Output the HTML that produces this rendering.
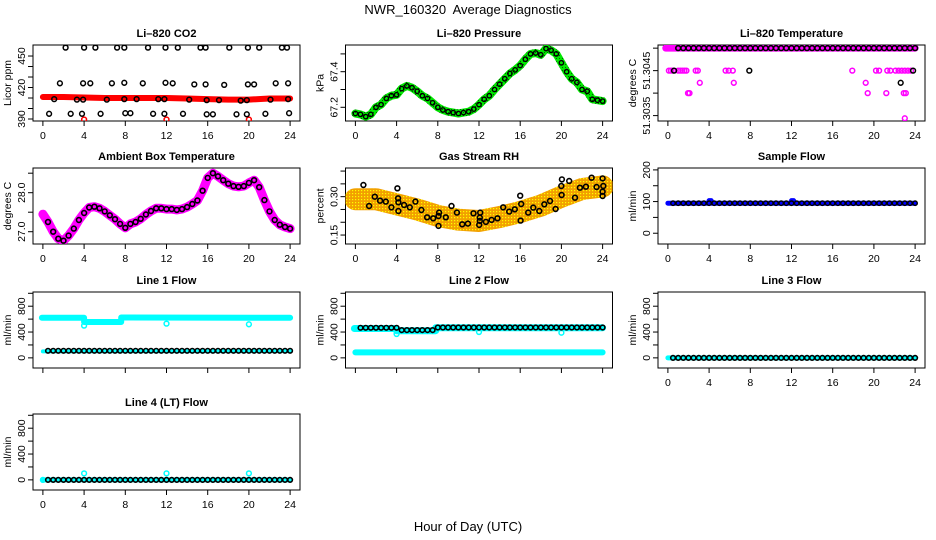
<!DOCTYPE html>
<html><head><meta charset="utf-8"><title>NWR_160320 Average Diagnostics</title>
<style>
html,body{margin:0;padding:0;background:#fff;}
svg{display:block;font-family:"Liberation Sans",Arial,sans-serif;}
</style></head>
<body>
<svg id="fig" width="936" height="540" viewBox="0 0 936 540" xmlns="http://www.w3.org/2000/svg">
<defs>
<pattern id="rhPat" width="3" height="3" patternUnits="userSpaceOnUse">
<rect width="3" height="3" fill="#f2a000"/><rect x="1" y="1" width="1.2" height="1.2" fill="#ffff00"/>
</pattern>
<pattern id="grPat" width="3" height="3" patternUnits="userSpaceOnUse">
<rect width="3" height="3" fill="#00e800"/><rect x="1" y="1" width="1" height="1" fill="#006000"/>
</pattern>
</defs>
<text x="468" y="14" text-anchor="middle" font-size="13">NWR_160320&#160; Average Diagnostics</text>
<text x="468" y="531" text-anchor="middle" font-size="13">Hour of Day (UTC)</text>
</svg>
<script>
// ---------- data ----------
const H = [0,0.5,1,1.5,2,2.5,3,3.5,4,4.5,5,5.5,6,6.5,7,7.5,8,8.5,9,9.5,10,10.5,11,11.5,12,12.5,13,13.5,14,14.5,15,15.5,16,16.5,17,17.5,18,18.5,19,19.5,20,20.5,21,21.5,22,22.5,23,23.5,24];
const xTicks = [0,4,8,12,16,20,24];

// CO2
const co2RedX = [0,2,4,6,8,10,12,14,16,18,20,22,24];
const co2RedY = [411,411,410.5,410,410,410,410,409.5,409,408.5,408.5,409.5,409.5];
const co2OutX = [4,12,20];
const co2OutY = [389.5,389.5,389.5];
const co2HiX = [2.2,4.0,5.1,7.2,7.9,10.2,11.9,13.1,15.3,15.8,18.1,19.9,21.0,23.2,23.7];
const co2HiY = [458,458,458,458,458,458,458,458,458,458,458,458,458,458,458];
const co2MidX = [1.65,3.9,4.6,6.7,7.9,9.7,11.9,12.6,14.7,15.8,17.6,19.9,20.5,22.6,23.8];
const co2MidY = [424,424,424,424,424.5,424,424.5,424,423,423,422.5,423,423,424,424];
const co2LoX = [1.1,3.3,3.9,6.2,7.9,9.1,11.2,11.8,14.2,15.9,17.1,19.2,19.8,22.1,23.8];
const co2LoY = [409,408.5,408.5,408.5,409,409,409,409,408.5,408,408,407.5,408,408.5,409];
const co2BotX = [0.6,2.7,3.8,5.6,8.0,8.5,10.7,11.8,13.6,15.9,16.5,18.8,19.8,21.6,23.9];
const co2BotY = [395,395,395,395,395.5,395.5,395,395,395,394.5,394.5,394.5,394.5,395,395.5];
const co2Ticks = [390,400,410,420,430,440,450];
const co2Labels = [390,420,450];

// Pressure
const presY = [67.165,67.16,67.148,67.16,67.2,67.215,67.25,67.265,67.27,67.305,67.32,67.31,67.29,67.265,67.25,67.225,67.2,67.185,67.175,67.17,67.165,67.17,67.175,67.19,67.215,67.245,67.265,67.3,67.33,67.36,67.39,67.41,67.435,67.47,67.5,67.505,67.495,67.53,67.52,67.5,67.45,67.4,67.36,67.34,67.3,67.29,67.245,67.24,67.235];
const presTicks = [67.2,67.3,67.4,67.5];
const presLabels = [67.2,67.4];

// Li-820 temperature
const tempLineX = [-0.2,24];
const tempLineY = [51.3050,51.3050];
const tempMagX = [0.1,0.3,0.5,1.0,1.2,1.4,1.6,1.8,2.7,2.9,5.6,5.9,6.3,17.9,20.2,20.5,21.3,21.6,22.1,22.4,22.7,23.0,23.3,23.6, 3.1,6.4,19.2, 1.95,2.1,19.4,21.2,22.9,23.1, 23.0];
const tempMagY = [51.3045,51.3045,51.3045,51.3045,51.3045,51.3045,51.3045,51.3045,51.3045,51.3045,51.3045,51.3045,51.3045,51.3045,51.3045,51.3045,51.3045,51.3045,51.3045,51.3045,51.3045,51.3045,51.3045,51.3045, 51.30423,51.30423,51.30423, 51.3040,51.3040,51.3040,51.3040,51.3040,51.3040, 51.30344];
const tempBlkX = [0.6,7.9,23.8,22.6];
const tempBlkY = [51.3045,51.3045,51.3045,51.30423];
const tempMainY = [51.3050,51.3050,51.3050,51.3050,51.3050,51.3050,51.3050,51.3050,51.3050,51.3050,51.3050,51.3050,51.3050,51.3050,51.3050,51.3050,51.3050,51.3050,51.3050,51.3050,51.3050,51.3050,51.3050,51.3050,51.3050,51.3050,51.3050,51.3050,51.3050,51.3050,51.3050,51.3050,51.3050,51.3050,51.3050,51.3050,51.3050,51.3050,51.3050,51.3050,51.3050,51.3050,51.3050,51.3050,51.3050,51.3050,51.3050];
const tempTicks = [51.3035,51.3040,51.3045,51.3050];
const tempLabels = [51.3035,51.3045];

// Ambient box temperature
const ambY = [27.45,27.25,27.0,26.82,26.77,26.9,27.08,27.3,27.48,27.62,27.64,27.6,27.52,27.42,27.32,27.2,27.1,27.2,27.25,27.33,27.44,27.53,27.6,27.6,27.58,27.58,27.56,27.58,27.63,27.71,27.8,28.05,28.38,28.5,28.42,28.32,28.23,28.17,28.15,28.17,28.25,28.32,28.14,27.81,27.52,27.3,27.18,27.12,27.08];
const ambTicks = [27.0,27.5,28.0,28.5];
const ambLabels = [27.0,28.0];

// Gas stream RH
const rhTrendX = [0,2,4,6,8,10,12,14,16,18,20,22,24];
const rhTrendY = [0.29,0.29,0.27,0.25,0.225,0.21,0.205,0.22,0.24,0.265,0.30,0.33,0.34];
const rhPtX = [0.78,1.33,1.88,2.40,2.95,3.50,4.08,4.15,4.18,4.18,4.73,5.28,5.83,6.41,6.96,7.55,8.07,8.13,8.07,8.78,9.33,9.85,10.37,10.92,11.47,12.02,12.08,12.12,12.08,12.67,13.22,13.80,14.35,14.93,15.48,16.00,16.10,16.04,16.78,17.27,17.85,18.34,18.89,19.44,19.99,20.02,20.05,20.76,21.32,21.80,22.38,22.93,23.42,24.0,24.07,24.0,24.0];
const rhPtY = [0.3455,0.2636,0.30,0.2844,0.2805,0.2584,0.3325,0.2935,0.2779,0.2441,0.2675,0.2584,0.2805,0.248,0.2194,0.2155,0.2246,0.2376,0.1856,0.2194,0.2636,0.2376,0.1921,0.1947,0.235,0.1895,0.2051,0.2376,0.2181,0.2012,0.209,0.2155,0.2584,0.2415,0.2506,0.3039,0.2714,0.2064,0.2376,0.2571,0.2441,0.2701,0.2831,0.2519,0.3416,0.3065,0.3676,0.3611,0.2961,0.3351,0.339,0.3741,0.3377,0.3715,0.3416,0.3026,0.3195];
const rhTicks = [0.15,0.20,0.25,0.30,0.35,0.40];
const rhLabels = [0.15,0.30];

// Sample flow
const sampLineX = [0,4,4,4.2,4.2,12,12,12.2,12.2,24];
const sampLineY = [95,95,103,103,95,95,103,103,95,95];
const sampBlkY = [95,95,95,95,95,95,95,95,95,95,95,95,95,95,95,95,95,95,95,95,95,95,95,95,95,95,95,95,95,95,95,95,95,95,95,95,95,95,95,95,95,95,95,95,95,95,95,95];
const sampTicks = [0,50,100,150,200];
const sampLabels = [0,100,200];

// Flow panels
const flowTicks = [0,200,400,600,800,1000];
const flowLabels = [0,400,800];
const l1UpX = [-0.1,4,4,7.6,7.6,24];
const l1UpY = [620,620,555,555,625,620];
const l1LowX = [0,24];
const l1LowY = [100,105];
const l1OutX = [4,12,20];
const l1OutY = [500,530,520];
const l1BlkY = [110,110,110,110,110,110,110,110,110,110,110,110,110,110,110,110,110,110,110,110,110,110,110,110,110,110,110,110,110,110,110,110,110,110,110,110,110,110,110,110,110,110,110,110,110,110,110,110];

const l2UpX = [-0.1,4,4,7.8,7.8,24];
const l2UpY = [455,455,420,420,465,465];
const l2LowX = [0,24];
const l2LowY = [85,85];
const l2OutX = [4,12,20];
const l2OutY = [370,400,390];
const l2BlkY = [465,465,465,465,465,465,465,465,430,430,430,430,430,430,430,470,470,470,470,470,470,470,470,470,470,470,470,470,470,470,470,470,470,470,470,470,470,470,470,470,470,470,470,470,470,470,470,470];

const l3LineX = [0,24];
const l3LineY = [0,0];
const l3BlkY = [0,0,0,0,0,0,0,0,0,0,0,0,0,0,0,0,0,0,0,0,0,0,0,0,0,0,0,0,0,0,0,0,0,0,0,0,0,0,0,0,0,0,0,0,0,0,0,0];
const l4OutX = [0,4,12,20];
const l4OutY = [0,100,100,100];

// ---------- drawing ----------
const SVGNS = 'http://www.w3.org/2000/svg';
const fig = document.getElementById('fig');
const COLS = [33, 345.5, 658];
const ROWS = [45, 168, 292, 414];
const PW = 267, PH = 76;

function mk(tag, parent){ const e = document.createElementNS(SVGNS, tag); parent.appendChild(e); return e; }

function fmt(v){ return String(v); }

function makePanel(col,row,title,ylab,ylim,ticks,labels,fixed,showX){
  const L = COLS[col], T = ROWS[row];
  const g = mk('g', fig);
  
  
  const sx = h => L + (h + 0.96) / 25.92 * PW;
  const sy = v => T + PH - (v - ylim[0]) / (ylim[1] - ylim[0]) * PH;
  const box = mk('rect', g);
  
  
  box.setAttribute('x', L); box.setAttribute('y', T); box.setAttribute('width', PW); box.setAttribute('height', PH);
  box.setAttribute('fill', 'none'); box.setAttribute('stroke', '#000'); box.setAttribute('stroke-width', '1');
  const t = mk('text', g);
  
  
  t.setAttribute('x', L + PW/2); t.setAttribute('y', T - 8); t.setAttribute('text-anchor', 'middle');
  t.setAttribute('font-size', '11'); t.setAttribute('font-weight', 'bold');
  t.textContent = title;
  const xa = mk('g', g);
  
  
  const xl = mk('line', xa);
  xl.setAttribute('x1', sx(xTicks[0])); xl.setAttribute('x2', sx(xTicks[xTicks.length-1]));
  xl.setAttribute('y1', T+PH); xl.setAttribute('y2', T+PH); xl.setAttribute('stroke', '#000');
  xTicks.forEach(h => {
    const tk = mk('line', xa);
    
    
    tk.setAttribute('x1', sx(h)); tk.setAttribute('x2', sx(h)); tk.setAttribute('y1', T+PH); tk.setAttribute('y2', T+PH+5); tk.setAttribute('stroke', '#000');
    if (showX) {
      const tl = mk('text', xa);
      
      
      tl.setAttribute('x', sx(h)); tl.setAttribute('y', T+PH+18); tl.setAttribute('text-anchor', 'middle'); tl.setAttribute('font-size', '10.5');
      tl.textContent = fmt(h);
    }
  });
  const ya = mk('g', g);
  
  
  const yl = mk('line', ya);
  yl.setAttribute('x1', L); yl.setAttribute('x2', L);
  yl.setAttribute('y1', sy(ticks[0])); yl.setAttribute('y2', sy(ticks[ticks.length-1])); yl.setAttribute('stroke', '#000');
  ticks.forEach(v => {
    const tk = mk('line', ya);
    
    
    tk.setAttribute('x1', L-5); tk.setAttribute('x2', L); tk.setAttribute('y1', sy(v)); tk.setAttribute('y2', sy(v)); tk.setAttribute('stroke', '#000');
  });
  labels.forEach(v => {
    const tl = mk('text', ya);
    
    
    const x = L - 8, y = sy(v);
    tl.setAttribute('x', x); tl.setAttribute('y', y); tl.setAttribute('text-anchor', 'middle'); tl.setAttribute('font-size', '10.5');
    tl.setAttribute('transform', 'rotate(-90 ' + x + ' ' + y + ')');
    tl.textContent = v.toFixed(fixed);
  });
  const yt = mk('text', ya);
  
  
  const yx = L - 22, yy = T + PH/2;
  yt.setAttribute('x', yx); yt.setAttribute('y', yy); yt.setAttribute('text-anchor', 'middle'); yt.setAttribute('font-size', '10.5');
  yt.setAttribute('transform', 'rotate(-90 ' + yx + ' ' + yy + ')');
  yt.textContent = ylab;
  const clipId = 'clip' + col + row;
  const cp = mk('clipPath', g); cp.setAttribute('id', clipId);
  const cr = mk('rect', cp); cr.setAttribute('x', L); cr.setAttribute('y', T); cr.setAttribute('width', PW); cr.setAttribute('height', PH);
  const dg = mk('g', g);
  
  
  dg.setAttribute('clip-path', 'url(#' + clipId + ')');
  return {g: dg, sx, sy};
}

function line(p, xs, ys, stroke, width, name){
  const pl = mk('polyline', p.g);
  
  
  pl.setAttribute('points', xs.map((x,i) => p.sx(x).toFixed(1) + ',' + p.sy(ys[i]).toFixed(1)).join(' '));
  pl.setAttribute('fill', 'none'); pl.setAttribute('stroke', stroke); pl.setAttribute('stroke-width', width);
  pl.setAttribute('stroke-linejoin', 'round'); pl.setAttribute('stroke-linecap', 'round');
}

function pts(p, xs, ys, color, name, r, sw){
  const gg = mk('g', p.g);
  
  
  xs.forEach((x,i) => {
    const c = mk('circle', gg);
    
    
    c.setAttribute('cx', p.sx(x).toFixed(1)); c.setAttribute('cy', p.sy(ys[i]).toFixed(1));
    c.setAttribute('r', r || 2.4); c.setAttribute('fill', 'none'); c.setAttribute('stroke', color); c.setAttribute('stroke-width', sw || 1.5);
  });
}

const HC = H.slice(1);
const HT = H.slice(2);

let p = makePanel(0,0,'Li\u2013820 CO2','Licor ppm',[388.1,460.5],co2Ticks,co2Labels,0,true);
line(p, co2RedX, co2RedY, '#ff0000', 6, 'co2-red-band');
pts(p, co2OutX, co2OutY, '#ff0000', 'co2-red-point');
pts(p, co2HiX, co2HiY, '#000', 'co2-point-high');
pts(p, co2MidX, co2MidY, '#000', 'co2-point-mid');
pts(p, co2LoX, co2LoY, '#000', 'co2-point-low');
pts(p, co2BotX, co2BotY, '#000', 'co2-point-bottom');

p = makePanel(1,0,'Li\u2013820 Pressure','kPa',[67.123,67.55],presTicks,presLabels,1,true);
line(p, H, presY, 'url(#grPat)', 8, 'pressure-green-band');
pts(p, H, presY, '#000', 'pressure-point', 2.2, 1.4);

p = makePanel(2,0,'Li\u2013820 Temperature','degrees C',[51.30338,51.30507],tempTicks,tempLabels,4,true);
line(p, tempLineX, tempLineY, '#ff00ff', 7, 'temperature-magenta-band');
pts(p, tempMagX, tempMagY, '#ff00ff', 'temperature-magenta-point');
pts(p, HT, tempMainY, '#000', 'temperature-point', 2.4, 1.6);
pts(p, tempBlkX, tempBlkY, '#000', 'temperature-black-point');

p = makePanel(0,1,'Ambient Box Temperature','degrees C',[26.685,28.633],ambTicks,ambLabels,1,true);
line(p, H, ambY, '#ff00ff', 9, 'ambient-magenta-band');
pts(p, HC, ambY.slice(1), '#000', 'ambient-point', 2.4, 1.6);

p = makePanel(1,1,'Gas Stream RH','percent',[0.115,0.412],rhTicks,rhLabels,2,true);
line(p, rhTrendX, rhTrendY, 'url(#rhPat)', 22, 'rh-orange-cloud');
pts(p, rhPtX, rhPtY, '#000', 'rh-point', 2.4, 1.6);

p = makePanel(2,1,'Sample Flow','ml/min',[-34,206],sampTicks,sampLabels,0,true);
line(p, sampLineX, sampLineY, '#0000ff', 5, 'sample-flow-blue-band');
pts(p, HC, sampBlkY, '#000', 'sample-flow-point', 2.2, 1.4);

p = makePanel(0,2,'Line 1 Flow','ml/min',[-157,1020],flowTicks,flowLabels,0,false);
line(p, l1UpX, l1UpY, '#00ffff', 6, 'line1-cyan-upper');
line(p, l1LowX, l1LowY, '#00ffff', 4, 'line1-cyan-lower');
pts(p, l1OutX, l1OutY, '#00ffff', 'line1-cyan-outlier');
pts(p, HC, l1BlkY, '#000', 'line1-point', 2.3, 1.6);

p = makePanel(1,2,'Line 2 Flow','ml/min',[-157,1020],flowTicks,flowLabels,0,false);
line(p, l2UpX, l2UpY, '#00ffff', 7, 'line2-cyan-upper');
line(p, l2LowX, l2LowY, '#00ffff', 6, 'line2-cyan-lower');
pts(p, l2OutX, l2OutY, '#00ffff', 'line2-cyan-outlier');
pts(p, HC, l2BlkY, '#000', 'line2-point', 2.3, 1.6);

p = makePanel(2,2,'Line 3 Flow','ml/min',[-157,1020],flowTicks,flowLabels,0,true);
line(p, l3LineX, l3LineY, '#00ffff', 5, 'line3-cyan-band');
pts(p, HC, l3BlkY, '#000', 'line3-point', 2.3, 1.6);

p = makePanel(0,3,'Line 4 (LT) Flow','ml/min',[-157,1020],flowTicks,flowLabels,0,true);
line(p, l3LineX, l3LineY, '#00ffff', 5, 'line4-cyan-band');
pts(p, l4OutX, l4OutY, '#00ffff', 'line4-cyan-outlier');
pts(p, HC, l3BlkY, '#000', 'line4-point', 2.3, 1.6);
</script>
</body></html>
